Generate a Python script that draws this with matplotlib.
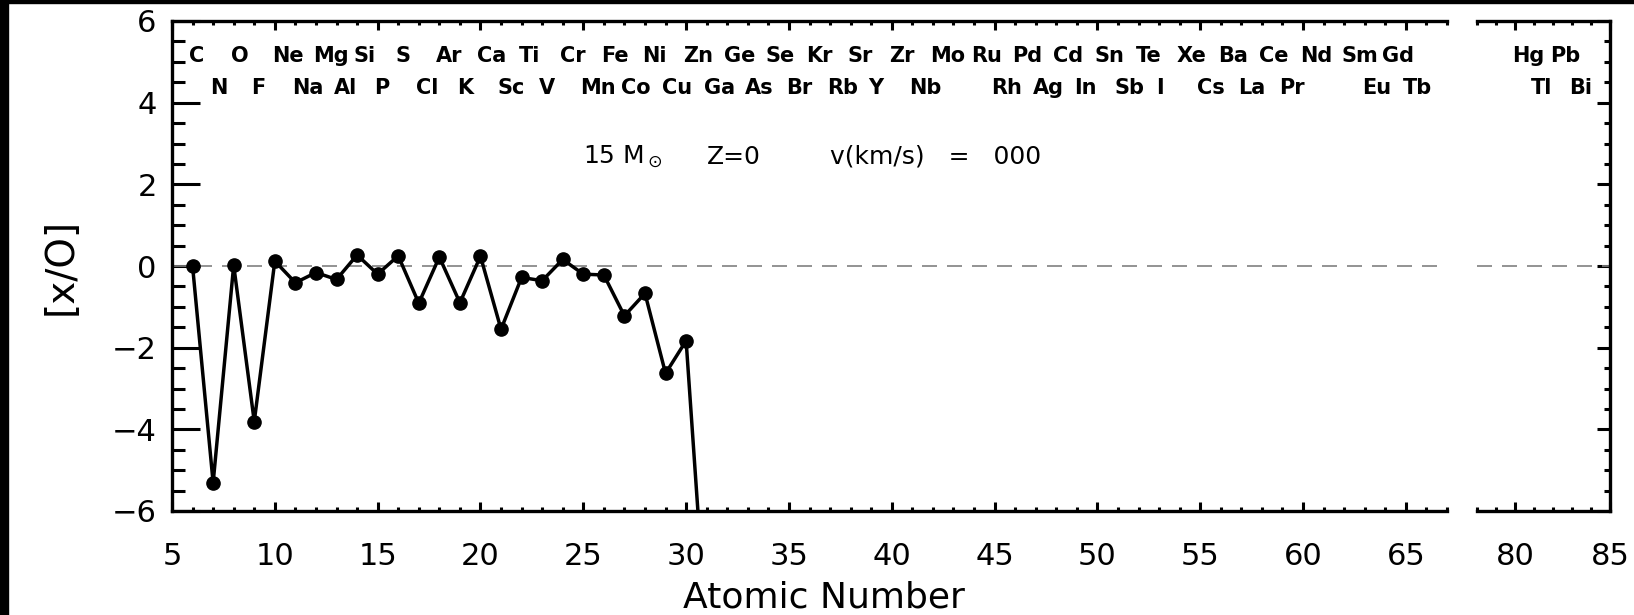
import matplotlib
matplotlib.use("Agg")
import matplotlib.pyplot as plt
from matplotlib.patches import Rectangle
from matplotlib.ticker import MultipleLocator

plt.rcParams['font.family'] = ['DejaVu Sans']

# [X/O] for the 15 Msun, Z=0, v=0 model
z_vals = [6, 7, 8, 9, 10, 11, 12, 13, 14, 15, 16, 17, 18, 19, 20, 21, 22, 23, 24,
          25, 26, 27, 28, 29, 30, 31]
x_over_o = [0.00, -5.31, 0.02, -3.81, 0.12, -0.41, -0.16, -0.33, 0.27, -0.20, 0.25,
            -0.91, 0.22, -0.90, 0.24, -1.55, -0.28, -0.36, 0.16, -0.20, -0.22,
            -1.22, -0.67, -2.63, -1.83, -9.1]

# element symbols written along the top of each panel
left_z = [6, 7, 8, 9, 10, 11, 12, 13, 14, 15, 16, 17, 18, 19, 20, 21, 22, 23, 24, 25,
          26, 27, 28, 29, 30, 31, 32, 33, 34, 35, 36, 37, 38, 39, 40, 41, 42, 44, 45,
          46, 47, 48, 49, 50, 51, 52, 53, 54, 55, 56, 57, 58, 59, 60, 62, 63, 64, 65]
left_sym = ['C', 'N', 'O', 'F', 'Ne', 'Na', 'Mg', 'Al', 'Si', 'P', 'S', 'Cl', 'Ar', 'K',
            'Ca', 'Sc', 'Ti', 'V', 'Cr', 'Mn', 'Fe', 'Co', 'Ni', 'Cu', 'Zn', 'Ga', 'Ge',
            'As', 'Se', 'Br', 'Kr', 'Rb', 'Sr', 'Y', 'Zr', 'Nb', 'Mo', 'Ru', 'Rh', 'Pd',
            'Ag', 'Cd', 'In', 'Sn', 'Sb', 'Te', 'I', 'Xe', 'Cs', 'Ba', 'La', 'Ce', 'Pr',
            'Nd', 'Sm', 'Eu', 'Gd', 'Tb']
right_z = [80, 81, 82, 83]
right_sym = ['Hg', 'Tl', 'Pb', 'Bi']

W, H = 1634, 615
fig = plt.figure(figsize=(W / 100, H / 100), dpi=100)
bottom = 1 - 511 / H
height = (511 - 21) / H
ax1 = fig.add_axes([172 / W, bottom, (1447 - 172) / W, height])
ax2 = fig.add_axes([1477 / W, bottom, (1610 - 1477) / W, height])

for ax in (ax1, ax2):
    ax.set_ylim(-6, 6)
    for s in ax.spines.values():
        s.set_linewidth(2.4)
    ax.axhline(0, color='#808080', lw=1.2, dashes=(9, 6))
    ax.xaxis.set_major_locator(MultipleLocator(5))
    ax.xaxis.set_minor_locator(MultipleLocator(1))
    ax.yaxis.set_major_locator(MultipleLocator(2))
    ax.yaxis.set_minor_locator(MultipleLocator(0.5))
    ax.tick_params(axis='x', which='both', direction='in', top=True, bottom=True,
                   width=2.2, labelsize=22, pad=22)
    ax.tick_params(axis='x', which='major', length=6.5)
    ax.tick_params(axis='x', which='minor', length=3)

ax1.set_xlim(5, 67)
ax2.set_xlim(78, 85)
ax1.spines['right'].set_visible(False)
ax2.spines['left'].set_visible(False)

ax1.tick_params(axis='y', which='both', direction='in', left=True, right=False,
                width=2.2, labelsize=22, pad=11)
ax1.tick_params(axis='y', which='major', length=20)
ax1.tick_params(axis='y', which='minor', length=9.5)

ax2.tick_params(axis='y', which='both', direction='in', left=False, right=True,
                labelleft=False, labelright=False, width=2.2)
ax2.tick_params(axis='y', which='major', length=9.5)
ax2.tick_params(axis='y', which='minor', length=4.5)

ax1.plot(z_vals, x_over_o, color='black', lw=2.5, marker='o', markersize=9.5)

for z, s in zip(left_z, left_sym):
    ax1.text(z - 0.15, 5.0 if z % 2 == 0 else 4.2, s, fontsize=15, fontweight='bold',
             ha='left', va='baseline')
for z, s in zip(right_z, right_sym):
    ax2.text(z - 0.15, 5.0 if z % 2 == 0 else 4.2, s, fontsize=15, fontweight='bold',
             ha='left', va='baseline')

ax1.text(25, 2.5, r'15 M$_\odot$', fontsize=18, va='baseline')
ax1.text(31, 2.5, 'Z=0', fontsize=18, va='baseline')
ax1.text(37, 2.5, 'v(km/s)   =   000', fontsize=18, va='baseline')

fig.text(824 / W, 1 - 598 / H, 'Atomic Number', fontsize=26, ha='center', va='center')
fig.text(61 / W, 1 - 266 / H, '[x/O]', fontsize=28, rotation=90, ha='center', va='center')

# dark frame along the left and top edges
fig.add_artist(Rectangle((0, 0), 8 / W, 1, transform=fig.transFigure, color='black'))
fig.add_artist(Rectangle((0, 1 - 2.5 / H), 1, 2.5 / H, transform=fig.transFigure, color='black'))

fig.savefig('out.png', dpi=100)
